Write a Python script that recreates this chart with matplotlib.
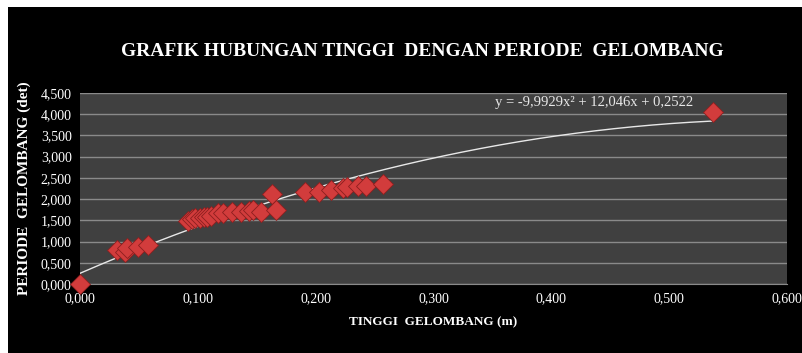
import numpy as np
import matplotlib.pyplot as plt
from matplotlib.patches import Rectangle
from matplotlib.ticker import FuncFormatter, MultipleLocator

# wave height (m) and wave period (det)
tinggi = [0.000, 0.031, 0.038, 0.040, 0.049, 0.058,
          0.092, 0.095, 0.098, 0.102, 0.105, 0.108, 0.111, 0.117, 0.121,
          0.129, 0.137, 0.143, 0.147, 0.154, 0.163, 0.166,
          0.191, 0.203, 0.213, 0.223, 0.227, 0.236, 0.243, 0.257, 0.537]
periode = [0.000, 0.80, 0.75, 0.85, 0.87, 0.92,
           1.49, 1.52, 1.55, 1.56, 1.57, 1.59, 1.60, 1.67, 1.68,
           1.70, 1.70, 1.73, 1.74, 1.70, 2.12, 1.74,
           2.17, 2.17, 2.21, 2.26, 2.29, 2.31, 2.31, 2.36, 4.05]

# polynomial trendline coefficients (order 2)
koef = [-9.9929, 12.046, 0.2522]

W, H = 803, 353
fig = plt.figure(figsize=(W / 100, H / 100), dpi=100, facecolor='white')
fig.patches.append(Rectangle((8 / W, 0), 1, 1 - 7 / H, transform=fig.transFigure,
                             facecolor='black', edgecolor='none', zorder=-10))

ax = fig.add_axes([80 / W, 1 - 284 / H, (787 - 80) / W, (284 - 93) / H])
ax.set_facecolor('#404040')

serif = 'Liberation Serif'

xs = np.linspace(min(tinggi), max(tinggi), 200)
ax.plot(xs, np.polyval(koef, xs), color='#e8e8e8', lw=1, zorder=2)
ax.plot(tinggi, periode, 'D', ms=10, color='#d23c3c', mec='#8c1e1e', mew=0.6,
        zorder=3, clip_on=False)

ax.set_xlim(0, 0.6)
ax.set_ylim(0, 4.5)
ax.xaxis.set_major_locator(MultipleLocator(0.1))
ax.yaxis.set_major_locator(MultipleLocator(0.5))
koma = FuncFormatter(lambda v, p: f'{v:.3f}'.replace('.', ','))
ax.xaxis.set_major_formatter(koma)
ax.yaxis.set_major_formatter(koma)
ax.grid(axis='y', color='#8a8a8a', lw=1)
ax.set_axisbelow(True)
for s in ['top', 'right', 'left']:
    ax.spines[s].set_visible(False)
ax.spines['bottom'].set_color('#8a8a8a')
ax.tick_params(length=0, colors='white', labelsize=10, pad=6)
for lab in ax.get_xticklabels() + ax.get_yticklabels():
    lab.set_fontfamily(serif)

ax.set_xlabel('TINGGI  GELOMBANG (m)', fontfamily=serif, fontweight='bold',
              fontsize=9.5, color='white', labelpad=8)
ax.set_ylabel('PERIODE  GELOMBANG (det)', fontfamily=serif, fontweight='bold',
              fontsize=11, color='white', labelpad=7)

ax.text(0.352, 4.27, 'y = -9,9929x² + 12,046x + 0,2522', fontfamily=serif,
        fontsize=10.5, color='#e8e8e8', va='center')

fig.text(422 / W, 1 - 51 / H, 'GRAFIK HUBUNGAN TINGGI  DENGAN PERIODE  GELOMBANG',
         fontfamily=serif, fontweight='bold', fontsize=14, color='white',
         ha='center', va='center')

fig.savefig('out.png', dpi=100, facecolor=fig.get_facecolor())
